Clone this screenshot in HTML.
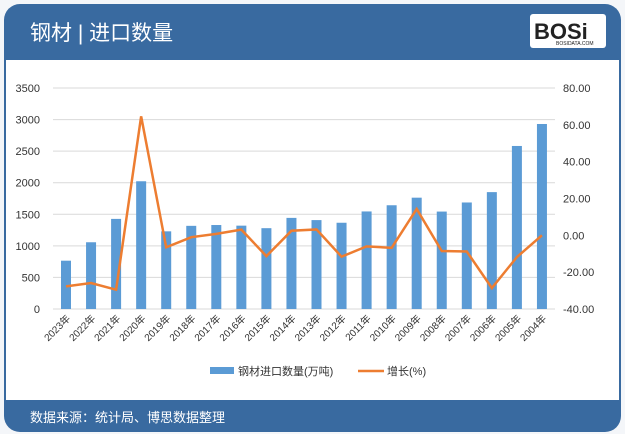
<!DOCTYPE html>
<html><head><meta charset="utf-8"><style>
body{margin:0;width:625px;height:434px;background:#f4f6f9;font-family:"Liberation Sans","Noto Sans CJK SC",sans-serif;overflow:hidden}
</style></head><body>
<svg width="625" height="434" viewBox="0 0 625 434" xmlns="http://www.w3.org/2000/svg" style="position:absolute;left:0;top:0">
<rect x="4" y="4" width="617" height="428" rx="16" fill="#396aa0"/>
<rect x="6" y="60" width="613" height="340" fill="#ffffff"/>
<text x="30" y="40" font-size="21" fill="#fff" font-family="Liberation Sans,Noto Sans CJK SC,sans-serif">钢材 | 进口数量</text>
<rect x="530" y="14" width="76" height="34" rx="3" fill="#fff"/>
<text x="534" y="39" font-size="22" font-weight="bold" fill="#222" font-family="Liberation Sans,sans-serif">BOSi</text>
<text x="556" y="45" font-size="5" fill="#222">BOSIDATA.COM</text>
<text x="30" y="422" font-size="13" fill="#fff">数据来源：统计局、博思数据整理</text>
<g id="chart"></g>
</svg>
<script>
const L=[765,1057,1427,2023,1230,1317,1330,1320,1280,1443,1408,1366,1545,1643,1763,1543,1687,1851,2582,2930];
const G=[-27.7,-25.9,-29.5,64.6,-6.5,-1,0.8,3.1,-11.3,2.5,3.2,-11.6,-6,-6.8,14.3,-8.5,-8.8,-28.6,-11.8,0];
const yrs=[];for(let y=2023;y>=2004;y--)yrs.push(y);
let s='';const y0=309,py=221/3500;
for(let i=0;i<=7;i++){const y=y0-i*500*py;s+=`<line x1="53" x2="555" y1="${y}" y2="${y}" stroke="#d9d9d9" stroke-width="1"/>`;
s+=`<text x="40" y="${y+4}" font-size="11" fill="#333" text-anchor="end">${i*500}</text>`;
if(i<=6){const yr=y0-i*20*221/120;s+=`<text x="563" y="${yr+4}" font-size="11" fill="#333">${(-40+i*20).toFixed(2)}</text>`;}}
const cx=i=>66+i*25.05;
L.forEach((v,i)=>{s+=`<rect x="${cx(i)-5}" y="${y0-v*py}" width="10" height="${v*py}" fill="#5b9bd5"/>`;
s+=`<text transform="translate(${cx(i)+5},${y0+10}) rotate(-45)" font-size="10" fill="#333" text-anchor="end">${yrs[i]}年</text>`;});
const gy=v=>88+(80-v)*221/120;
s+=`<polyline fill="none" stroke="#ed7d31" stroke-width="2.5" points="${G.map((v,i)=>cx(i)+','+gy(v)).join(' ')}"/>`;
s+=`<rect x="210" y="367" width="24" height="7" fill="#5b9bd5"/><text x="238" y="375" font-size="11" fill="#333">钢材进口数量(万吨)</text>`;
s+=`<line x1="358" x2="384" y1="371" y2="371" stroke="#ed7d31" stroke-width="2.5"/><text x="387" y="375" font-size="11" fill="#333">增长(%)</text>`;
document.getElementById('chart').innerHTML=s;
</script>
</body></html>
